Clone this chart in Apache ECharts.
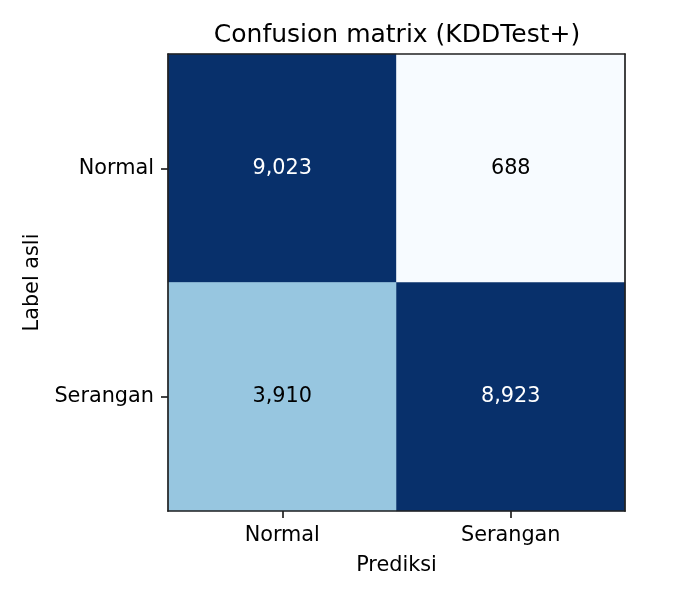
<!DOCTYPE html>
<html>
<head>
<meta charset="utf-8">
<script src="https://cdn.jsdelivr.net/npm/echarts@6/dist/echarts.min.js"></script>
<style>
  html, body { margin: 0; padding: 0; background: #fff; }
  #main { width: 675px; height: 600px; }
</style>
</head>
<body>
<div id="main"></div>
<script>
// kelas dan hasil confusion matrix
var classes = ['Normal', 'Serangan'];
var rowNormal = [9023, 688];     // label asli Normal
var rowSerangan = [3910, 8923];  // label asli Serangan
var blues = ['#f7fbff', '#deebf7', '#c6dbef', '#9ecae1', '#6baed6',
             '#4292c6', '#2171b5', '#08519c', '#08306b'];

var rows = [rowNormal, rowSerangan];
var data = [];
for (var r = 0; r < rows.length; r++) {
    for (var c = 0; c < rows[r].length; c++) {
        data.push([c, r, rows[r][c]]);
    }
}
var vmin = Math.min(rowNormal[1], rowSerangan[0]);
var vmax = 8923;
var thresh = vmax / 2;

var font = 'DejaVu Sans';
var fs = 20.8;
var chart = echarts.init(document.getElementById('main'));

var spine = {show: true, lineStyle: {color: '#222', width: 1.7}};
var hiddenAxis = {
    axisLine: spine,
    axisTick: {show: false},
    axisLabel: {show: false},
    splitLine: {show: false},
    z: 10
};

chart.setOption({
    animation: false,
    textStyle: {fontFamily: font},
    title: {
        text: 'Confusion matrix (KDDTest+)',
        left: 392,
        top: 18,
        textAlign: 'center',
        textStyle: {fontFamily: font, fontSize: 25, fontWeight: 'normal', color: '#000'}
    },
    grid: {left: 168, right: 50, top: 54, bottom: 89},
    visualMap: {
        show: false,
        type: 'continuous',
        min: vmin,
        max: vmax,
        dimension: 2,
        inRange: {color: blues}
    },
    xAxis: [{
        type: 'category',
        data: classes,
        position: 'bottom',
        name: 'Prediksi',
        nameLocation: 'middle',
        nameGap: 44,
        nameTextStyle: {fontFamily: font, fontSize: fs, color: '#000'},
        axisLine: spine,
        axisTick: {show: true, alignWithLabel: true, length: 7, lineStyle: {color: '#222', width: 1.7}},
        axisLabel: {fontFamily: font, fontSize: fs, color: '#000', margin: 14},
        splitLine: {show: false},
        z: 10
    }, Object.assign({type: 'category', data: classes, position: 'top'}, hiddenAxis)],
    yAxis: [{
        type: 'category',
        data: classes,
        inverse: true,
        position: 'left',
        name: 'Label asli',
        nameLocation: 'middle',
        nameGap: 124,
        nameRotate: 90,
        nameTextStyle: {fontFamily: font, fontSize: fs, color: '#000'},
        axisLine: spine,
        axisTick: {show: true, alignWithLabel: true, length: 7, lineStyle: {color: '#222', width: 1.7}},
        axisLabel: {fontFamily: font, fontSize: fs, color: '#000', margin: 14},
        splitLine: {show: false},
        z: 10
    }, Object.assign({type: 'category', data: classes, inverse: true, position: 'right'}, hiddenAxis)],
    series: [{
        type: 'heatmap',
        data: data,
        label: {
            show: true,
            fontFamily: font,
            fontSize: fs,
            formatter: function (p) {
                var v = p.value[2];
                var s = v.toLocaleString('en-US');
                return v > thresh ? '{w|' + s + '}' : '{b|' + s + '}';
            },
            rich: {
                w: {color: '#fff', fontFamily: font, fontSize: fs},
                b: {color: '#000', fontFamily: font, fontSize: fs}
            }
        },
        itemStyle: {borderWidth: 0}
    }]
});
</script>
</body>
</html>
